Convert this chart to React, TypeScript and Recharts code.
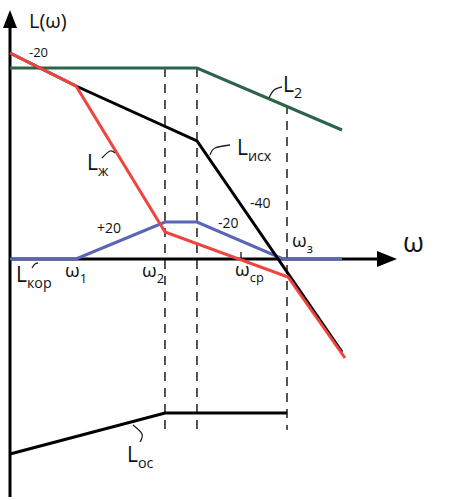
import React from "react";
import { LineChart, Line, XAxis, YAxis, ReferenceDot } from "recharts";

// Coordinates: origin at the crossing of the axes, 1 unit ≈ 1 px
const L2 = [
  { x: 0, y: 191 },
  { x: 187, y: 191 },
  { x: 332, y: 129 },
];
const Lisx = [
  { x: 0, y: 206 },
  { x: 66, y: 173 },
  { x: 187, y: 118 },
  { x: 332, y: -93 },
];
const Lzh = [
  { x: 0, y: 206 },
  { x: 66, y: 173 },
  { x: 155, y: 27 },
  { x: 278, y: -18 },
  { x: 335, y: -99 },
];
const Lkor = [
  { x: 0, y: 0 },
  { x: 66, y: 0 },
  { x: 155, y: 37 },
  { x: 187, y: 37 },
  { x: 273, y: 0 },
  { x: 332, y: 0 },
];
const Los = [
  { x: 0, y: -195 },
  { x: 155, y: -154 },
  { x: 277, y: -154 },
];
const dashed = [
  [{ x: 155, y: 191 }, { x: 155, y: -171 }],
  [{ x: 187, y: 191 }, { x: 187, y: -171 }],
  [{ x: 277, y: 154 }, { x: 277, y: -171 }],
];
const yAxisLine = [{ x: 0, y: -238 }, { x: 0, y: 236 }];
const xAxisLine = [{ x: 0, y: 0 }, { x: 372, y: 0 }];
const wcpTick = [{ x: 231, y: 0 }, { x: 231, y: 7 }];
const leaders = [
  [{ x: 259, y: 161 }, { x: 264, y: 169 }, { x: 272, y: 172 }],
  [{ x: 200, y: 104 }, { x: 205, y: 111 }, { x: 220, y: 114 }],
  [{ x: 92, y: 101 }, { x: 100, y: 108 }, { x: 105, y: 106 }],
  [{ x: 22, y: -9 }, { x: 25, y: -5 }, { x: 28, y: -4 }],
  [{ x: 123, y: -166 }, { x: 132, y: -175 }, { x: 130, y: -183 }],
];
const labels = [
  { x: 19, y: 231, main: "L(ω)", sub: "", size: 20 },
  { x: 19, y: 202, main: "-20", sub: "", size: 13 },
  { x: 273, y: 167, main: "L", sub: "2", size: 21 },
  { x: 227, y: 104, main: "L", sub: "исх", size: 21 },
  { x: 77, y: 89, main: "L", sub: "ж", size: 21 },
  { x: 87, y: 26, main: "+20", sub: "", size: 14 },
  { x: 208, y: 31, main: "-20", sub: "", size: 14 },
  { x: 240, y: 51, main: "-40", sub: "", size: 14 },
  { x: 282, y: 12, main: "ω", sub: "з", size: 19 },
  { x: 393, y: 7, main: "ω", sub: "", size: 27 },
  { x: 225, y: -17, main: "ω", sub: "ср", size: 19 },
  { x: 55, y: -18, main: "ω", sub: "1", size: 19 },
  { x: 132, y: -18, main: "ω", sub: "2", size: 19 },
  { x: 6, y: -23, main: "L", sub: "кор", size: 21 },
  { x: 117, y: -203, main: "L", sub: "ос", size: 21 },
];
const arrows = [
  { x: 0, y: 249, dir: "up" },
  { x: 387, y: 0, dir: "right" },
];

const FONT = "'Open Sans', 'DejaVu Sans', sans-serif";

const renderLabel = (lab: any) => (props: any) => {
  const { cx, cy } = props;
  return (
    <text x={cx} y={cy} fontFamily={FONT} fontSize={lab.size} fill="#111">
      {lab.main}
      {lab.sub ? (
        <tspan dy={lab.size * 0.3} fontSize={lab.size * 0.68}>
          {lab.sub}
        </tspan>
      ) : null}
    </text>
  );
};

const renderArrow = (dir: string) => (props: any) => {
  const { cx, cy } = props;
  const pts =
    dir === "up"
      ? `${cx},${cy} ${cx - 7},${cy + 18} ${cx + 7},${cy + 18}`
      : `${cx},${cy} ${cx - 20},${cy - 8} ${cx - 20},${cy + 8}`;
  return <polygon points={pts} fill="#000" />;
};

const lineCommon = {
  dataKey: "y",
  dot: false,
  activeDot: false,
  isAnimationActive: false,
  type: "linear" as const,
};

export default function App() {
  return (
    <div style={{ position: "absolute", left: 0, top: 0, background: "#fff" }}>
      <LineChart width={475} height={500} margin={{ top: 0, right: 0, bottom: 0, left: 0 }}>
        <XAxis type="number" dataKey="x" domain={[-10, 465]} hide allowDataOverflow />
        <YAxis type="number" dataKey="y" domain={[-241, 259]} hide allowDataOverflow />
        {dashed.map((d, i) => (
          <Line key={"d" + i} {...lineCommon} data={d} stroke="#111" strokeWidth={1.4} strokeDasharray="9 7" />
        ))}
        <Line {...lineCommon} data={yAxisLine} stroke="#000" strokeWidth={3} />
        <Line {...lineCommon} data={xAxisLine} stroke="#000" strokeWidth={3} />
        <Line {...lineCommon} data={wcpTick} stroke="#000" strokeWidth={1.2} />
        <Line {...lineCommon} data={L2} stroke="#2c6449" strokeWidth={3} />
        <Line {...lineCommon} data={Lkor} stroke="#5a64b8" strokeWidth={3.2} />
        <Line {...lineCommon} data={Lisx} stroke="#000" strokeWidth={3} />
        <Line {...lineCommon} data={Lzh} stroke="#ee4540" strokeWidth={3} />
        <Line {...lineCommon} data={Los} stroke="#000" strokeWidth={3} />
        {leaders.map((d, i) => (
          <Line key={"l" + i} {...lineCommon} type="natural" data={d} stroke="#222" strokeWidth={1.3} />
        ))}
        {arrows.map((a, i) => (
          <ReferenceDot key={"a" + i} x={a.x} y={a.y} r={0} shape={renderArrow(a.dir)} />
        ))}
        {labels.map((lab, i) => (
          <ReferenceDot key={"t" + i} x={lab.x} y={lab.y} r={0} shape={renderLabel(lab)} />
        ))}
      </LineChart>
    </div>
  );
}
